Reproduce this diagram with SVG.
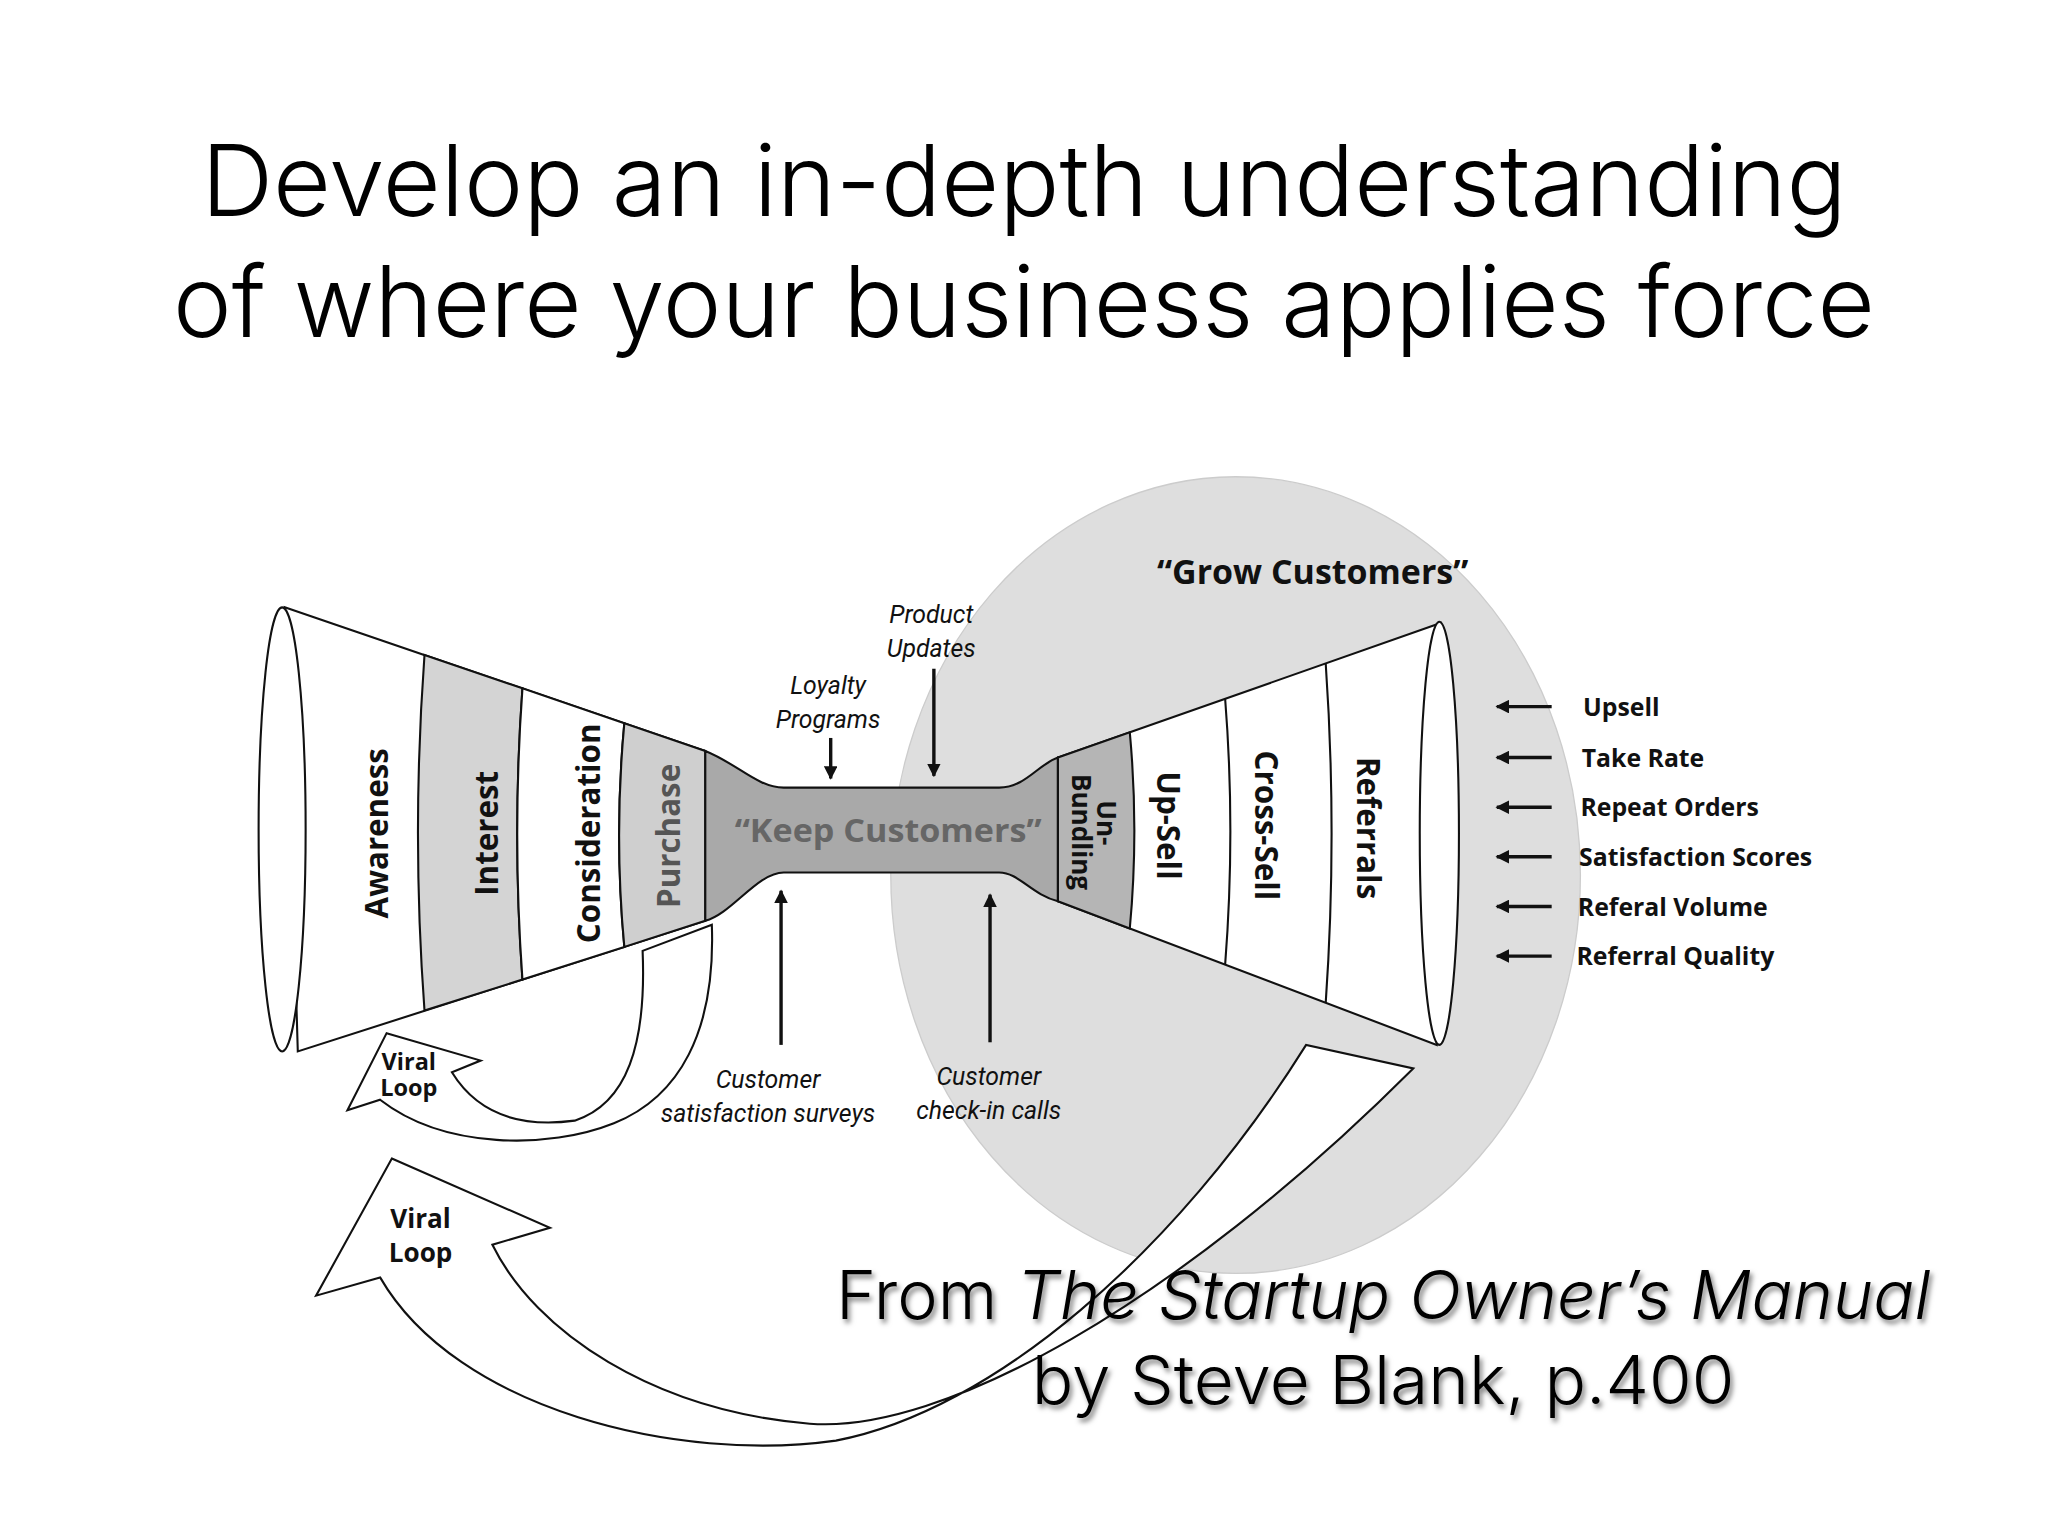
<svg xmlns="http://www.w3.org/2000/svg" width="2048" height="1536" viewBox="0 0 2048 1536">
<style>
.t{font-family:Inter,"Liberation Sans",sans-serif;font-weight:300;fill:#000}
.b{font-family:"Open Sans","DejaVu Sans",sans-serif;font-weight:700;fill:#111}
.i{font-family:Roboto,"Liberation Sans",sans-serif;font-style:italic;fill:#111}
.ln{fill:none;stroke:#111;stroke-width:1.6}
.ar{stroke:#111;stroke-width:2.6;marker-end:url(#ah)}
</style>
<defs>
<marker id="ah" viewBox="0 0 10 10" refX="9" refY="5" markerWidth="4" markerHeight="4" orient="auto"><path d="M0,0 L10,5 L0,10 Z" fill="#111"/></marker>
<filter id="sh"><feDropShadow dx="2" dy="3" stdDeviation="2" flood-color="#000" flood-opacity="0.5"/></filter>
</defs>
<rect width="2048" height="1536" fill="#fff"/>
<g transform="scale(1.30612)">
<g id="title">
<text class="t" x="784" y="165" font-size="76" text-anchor="middle" textLength="1260" lengthAdjust="spacingAndGlyphs">Develop an in-depth understanding</text>
<text class="t" x="784" y="258" font-size="76" text-anchor="middle" textLength="1303" lengthAdjust="spacingAndGlyphs">of where your business applies force</text>
</g>
<g id="grow-circle"><ellipse cx="946" cy="670" rx="264" ry="305" fill="#dedede" stroke="#ccc" stroke-width="1"/></g>
<g id="viral-loop-large">
<path class="ln" style="fill:#fff" d="M300,887 L421,940 L377,953 C410,1020 500,1080 620,1090 C720,1098 900,1000 1082,818 L1000,800 C900,960 760,1080 640,1103 C520,1120 350,1080 291,978 L242,992 Z"/>
<text class="b" x="322" y="940" font-size="20" text-anchor="middle">Viral</text>
<text class="b" x="322" y="966" font-size="20" text-anchor="middle">Loop</text>
</g>
<g id="viral-loop-small">
<path class="ln" style="fill:#fff" d="M296,791 L368,812 L346,821 C370,860 410,862 440,858 C480,845 495,800 492,728 L545,708 C548,790 520,840 470,860 C420,880 340,880 291,842 L266,850 Z"/>
<text class="b" x="313" y="819" font-size="18" text-anchor="middle">Viral</text>
<text class="b" x="313" y="839" font-size="18" text-anchor="middle">Loop</text>
</g>
<g id="left-funnel">
<path class="ln" style="fill:#fff" d="M218,465 L540,575 L540,705 L228,805 Z"/>
<path d="M325,501.5 L400,527 Q392,638 400,750 L325,773.6 Q315,638 325,501.5 Z" fill="#d4d4d4" stroke="#111" stroke-width="1.6"/>
<path d="M400,527 L478,553.8 Q470,640 478,725 L400,750 Q392,638 400,527 Z" fill="#fff" stroke="#111" stroke-width="1.6"/>
<path d="M478,553.8 L540,575 L540,705 L478,725 Q470,640 478,553.8 Z" fill="#cfcfcf" stroke="#111" stroke-width="1.6"/>
<ellipse cx="216" cy="635" rx="18" ry="170" fill="#fff" stroke="#111" stroke-width="1.6"/>
<text class="b" transform="translate(297,638) rotate(-90)" font-size="24" text-anchor="middle">Awareness</text>
<text class="b" transform="translate(381,638) rotate(-90)" font-size="24" text-anchor="middle">Interest</text>
<text class="b" transform="translate(459,638) rotate(-90)" font-size="24" text-anchor="middle">Consideration</text>
<text class="b" transform="translate(521,640) rotate(-90)" font-size="24" text-anchor="middle" style="fill:#555">Purchase</text>
</g>
<g id="keep-customers">
<path d="M540,575 C565,585 580,603 600,603 L765,603 C785,603 795,585 810,580 L810,690 C790,685 780,668 765,668 L600,668 C580,668 560,700 540,705 Z" fill="#a9a9a9" stroke="#111" stroke-width="1.6"/>
<text class="b" x="680" y="645" font-size="25" text-anchor="middle" textLength="235" lengthAdjust="spacingAndGlyphs" style="fill:#666">“Keep Customers”</text>
</g>
<g id="right-funnel">
<path class="ln" style="fill:#fff" d="M810,580 L1103,477 L1100,800 L810,690 Z"/>
<path d="M810,580 L865,560.7 Q872,636 865,710.9 L810,690 Z" fill="#b5b5b5" stroke="#111" stroke-width="1.6"/>
<path class="ln" d="M938,535 Q946,636 938,738.5 M1015,508 Q1024,638 1015,767.8"/>
<ellipse cx="1102" cy="638" rx="15" ry="162" fill="#fff" stroke="#111" stroke-width="1.6"/>
<text class="b" transform="translate(840,630) rotate(90)" font-size="20" text-anchor="middle">Un-</text>
<text class="b" transform="translate(821,637) rotate(90)" font-size="20" text-anchor="middle">Bundling</text>
<text class="b" transform="translate(886,632) rotate(90)" font-size="24" text-anchor="middle">Up-Sell</text>
<text class="b" transform="translate(961,632) rotate(90)" font-size="24" text-anchor="middle">Cross-Sell</text>
<text class="b" transform="translate(1039,634) rotate(90)" font-size="24" text-anchor="middle">Referrals</text>
<text class="b" x="1005" y="447" font-size="26" text-anchor="middle">“Grow Customers”</text>
</g>
<g id="metrics">
<text class="b" x="1212" y="548" font-size="19">Upsell</text>
<text class="b" x="1211" y="587" font-size="19">Take Rate</text>
<text class="b" x="1210" y="625" font-size="19">Repeat Orders</text>
<text class="b" x="1209" y="663" font-size="19">Satisfaction Scores</text>
<text class="b" x="1208" y="701" font-size="19">Referal Volume</text>
<text class="b" x="1207" y="739" font-size="19">Referral Quality</text>
</g>
<g id="labels">
<text class="i" x="713" y="477" font-size="19" text-anchor="middle">Product</text>
<text class="i" x="713" y="503" font-size="19" text-anchor="middle">Updates</text>
<text class="i" x="634" y="531" font-size="19" text-anchor="middle">Loyalty</text>
<text class="i" x="634" y="557" font-size="19" text-anchor="middle">Programs</text>
<text class="i" x="588" y="833" font-size="19" text-anchor="middle">Customer</text>
<text class="i" x="588" y="859" font-size="19" text-anchor="middle">satisfaction surveys</text>
<text class="i" x="757" y="831" font-size="19" text-anchor="middle">Customer</text>
<text class="i" x="757" y="857" font-size="19" text-anchor="middle">check-in calls</text>
</g>
<g id="connectors">
<line class="ar" x1="636" y1="565" x2="636" y2="596"/>
<line class="ar" x1="715" y1="512" x2="715" y2="594"/>
<line class="ar" x1="598" y1="800" x2="598" y2="682"/>
<line class="ar" x1="758" y1="798" x2="758" y2="685"/>
<line class="ar" x1="1188" y1="541" x2="1146" y2="541"/>
<line class="ar" x1="1188" y1="580" x2="1146" y2="580"/>
<line class="ar" x1="1188" y1="618" x2="1146" y2="618"/>
<line class="ar" x1="1188" y1="656" x2="1146" y2="656"/>
<line class="ar" x1="1188" y1="694" x2="1146" y2="694"/>
<line class="ar" x1="1188" y1="732" x2="1146" y2="732"/>
</g>
<g id="citation" filter="url(#sh)">
<text class="t" x="640" y="1010" font-size="52" textLength="838" lengthAdjust="spacingAndGlyphs">From <tspan font-style="italic">The Startup Owner’s Manual</tspan></text>
<text class="t" x="790" y="1075" font-size="52" textLength="538" lengthAdjust="spacingAndGlyphs">by Steve Blank, p.400</text>
</g>
</g>
</svg>
